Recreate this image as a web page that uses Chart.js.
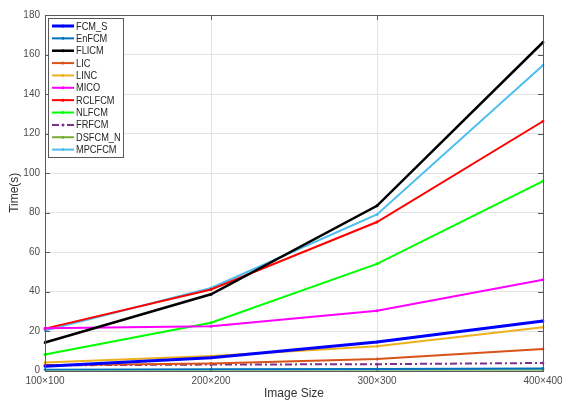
<!DOCTYPE html>
<html>
<head>
<meta charset="utf-8">
<script src="https://cdn.jsdelivr.net/npm/chart.js@4.4.1/dist/chart.umd.min.js"></script>
<style>
  html, body { margin: 0; padding: 0; background: #fff; }
  #wrap { width: 562px; height: 401px; position: relative; }
</style>
</head>
<body>
<div id="wrap"><canvas id="c" width="562" height="401"></canvas></div>
<script>
// Image sizes on the x axis
const categories = ['100\u00d7100', '200\u00d7200', '300\u00d7300', '400\u00d7400'];

// Running time (seconds) of each method
const fcmS    = [2.2, 6.4, 14.4, 25.1];
const enFcm   = [0.4, 0.6, 0.8, 1.0];
const flicm   = [14.2, 38.6, 83.4, 166.2];
const lic     = [2.6, 3.6, 5.8, 10.9];
const linc    = [4.0, 7.4, 12.3, 21.9];
const mico    = [21.4, 22.4, 30.3, 45.9];
const rclfcm  = [21.2, 41.0, 75.2, 126.2];
const nlfcm   = [8.1, 24.2, 54.0, 95.9];
const frfcm   = [2.6, 3.0, 3.2, 3.8];
const dsfcmN  = [0.1, 0.1, 0.1, 0.1];
const mpcfcm  = [20.2, 41.8, 79.0, 154.6];

const seriesNames = ['FCM_S', 'EnFCM', 'FLICM', 'LIC', 'LINC', 'MICO', 'RCLFCM', 'NLFCM', 'FRFCM', 'DSFCM_N', 'MPCFCM'];
const seriesValues = [fcmS, enFcm, flicm, lic, linc, mico, rclfcm, nlfcm, frfcm, dsfcmN, mpcfcm];
const seriesColors = ['#0000ff', '#0072bd', '#000000', '#d95319', '#edb120', '#ff00ff', '#ff0000', '#00ff00', '#7e2f8e', '#77ac30', '#4dbeee'];
const seriesWidths = [3, 2, 2.5, 2, 2, 2, 2, 2, 2, 2, 2];
const seriesDashes = [[], [], [], [], [], [], [], [], [7, 3, 2, 3], [], []];

const yTicks = [0, 20, 40, 60, 80, 100, 120, 140, 160, 180];

const FONT = '"Liberation Sans", Arial, sans-serif';

const datasets = seriesNames.map((name, i) => ({
  label: name,
  data: seriesValues[i],
  borderColor: seriesColors[i],
  backgroundColor: seriesColors[i],
  borderWidth: seriesWidths[i],
  borderDash: seriesDashes[i],
  pointRadius: 1.5,
  pointHoverRadius: 1.5,
  pointBorderWidth: 0,
  tension: 0,
  fill: false
}));

// Axes box with inward tick marks, drawn over the plot
const boxPlugin = {
  id: 'axesBox',
  afterDatasetsDraw(chart) {
    const { ctx, chartArea: a, scales } = chart;
    ctx.save();
    ctx.strokeStyle = '#5a5a5a';
    ctx.lineWidth = 1;
    ctx.strokeRect(Math.round(a.left) + 0.5, Math.round(a.top) + 0.5,
                   Math.round(a.right - a.left), Math.round(a.bottom - a.top));
    ctx.beginPath();
    const tl = 5;
    yTicks.forEach(v => {
      const y = Math.round(scales.y.getPixelForValue(v)) + 0.5;
      ctx.moveTo(a.left, y); ctx.lineTo(a.left + tl, y);
      ctx.moveTo(a.right, y); ctx.lineTo(a.right - tl, y);
    });
    categories.forEach((c, i) => {
      const x = Math.round(scales.x.getPixelForValue(i)) + 0.5;
      ctx.moveTo(x, a.bottom); ctx.lineTo(x, a.bottom - tl);
      ctx.moveTo(x, a.top); ctx.lineTo(x, a.top + tl);
    });
    ctx.stroke();
    ctx.restore();
  }
};

// Boxed legend in the upper-left corner of the plot
const legendPlugin = {
  id: 'insideLegend',
  afterDraw(chart) {
    const { ctx, chartArea: a } = chart;
    const x0 = a.left + 3, y0 = a.top + 3;
    const w = 75, rowH = 12.36, h = 139;
    ctx.save();
    ctx.fillStyle = '#ffffff';
    ctx.fillRect(x0, y0, w, h);
    ctx.strokeStyle = '#5a5a5a';
    ctx.lineWidth = 1;
    ctx.strokeRect(Math.round(x0) + 0.5, Math.round(y0) + 0.5, w, h);
    ctx.textBaseline = 'middle';
    chart.data.datasets.forEach((ds, i) => {
      const y = y0 + 8 + i * rowH;
      ctx.strokeStyle = ds.borderColor;
      ctx.lineWidth = ds.borderWidth;
      ctx.setLineDash(ds.borderDash || []);
      ctx.beginPath();
      ctx.moveTo(x0 + 4, y);
      ctx.lineTo(x0 + 26, y);
      ctx.stroke();
      ctx.setLineDash([]);
      ctx.fillStyle = ds.borderColor;
      ctx.beginPath();
      ctx.arc(x0 + 15, y, 1.5, 0, Math.PI * 2);
      ctx.fill();
      // labels are set in a slightly condensed face
      ctx.save();
      ctx.translate(x0 + 28, y + 0.5);
      ctx.scale(0.84, 1);
      ctx.font = '11px ' + FONT;
      ctx.fillStyle = '#262626';
      ctx.fillText(ds.label, 0, 0);
      ctx.restore();
    });
    ctx.restore();
  }
};

new Chart(document.getElementById('c'), {
  type: 'line',
  data: { labels: categories, datasets },
  plugins: [boxPlugin, legendPlugin],
  options: {
    responsive: false,
    animation: false,
    devicePixelRatio: 1,
    layout: { padding: { top: 15, right: 19, left: 7, bottom: 0 } },
    plugins: { legend: { display: false }, tooltip: { enabled: false } },
    scales: {
      x: {
        type: 'category',
        offset: false,
        grid: { color: '#e3e3e3', lineWidth: 1, drawTicks: false },
        border: { display: false },
        ticks: {
          color: '#4d4d4d',
          font: { family: FONT, size: 10 },
          padding: 5,
          maxRotation: 0,
          autoSkip: false
        },
        title: {
          display: true,
          text: 'Image Size',
          color: '#333333',
          font: { family: FONT, size: 12 },
          padding: { top: 7, bottom: 0 }
        },
        afterFit(s) { s.height = 30.5; s.paddingLeft = 0; s.paddingRight = 0; }
      },
      y: {
        min: 0,
        max: 180,
        grid: { color: '#e3e3e3', lineWidth: 1, drawTicks: false },
        border: { display: false },
        afterBuildTicks(s) { s.ticks = yTicks.map(v => ({ value: v })); },
        ticks: {
          color: '#4d4d4d',
          font: { family: FONT, size: 10 },
          padding: 5
        },
        title: {
          display: true,
          text: 'Time(s)',
          color: '#333333',
          font: { family: FONT, size: 12 },
          padding: { top: 0, bottom: 4 }
        },
        afterFit(s) { s.width = 38; s.paddingTop = 0; s.paddingBottom = 0; }
      }
    }
  }
});
</script>
</body>
</html>
